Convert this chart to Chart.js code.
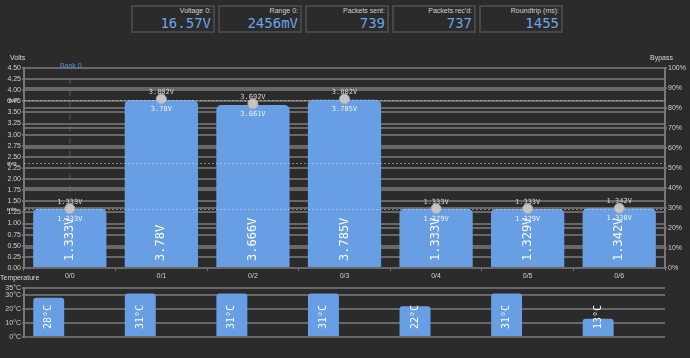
<!DOCTYPE html>
<html>
<head>
<meta charset="utf-8">
<script src="https://cdn.jsdelivr.net/npm/chart.js@4.4.0/dist/chart.umd.min.js"></script>
<style>
  html, body { margin: 0; padding: 0; background: #2b2b2b; width: 690px; height: 358px; overflow: hidden;
    font-family: "Liberation Sans", Arial, sans-serif; }
  #info { position: absolute; left: 131px; top: 5px; display: flex; gap: 3px; }
  .box { width: 80px; height: 24px; border: 2px solid #474747; position: relative; }
  .box .lbl { position: absolute; right: 2px; top: 0px; font-size: 7px; line-height: 8px; color: #d0d0d0; }
  .box .val { position: absolute; right: 2px; top: 8px; font: 14px/16px "DejaVu Sans Mono", monospace; color: #6aa6e8; }
  #volts { position: absolute; left: 0; top: 50px; }
  #temps { position: absolute; left: 0; top: 270px; }
</style>
</head>
<body>
<div id="info"></div>
<canvas id="volts" width="690" height="230"></canvas>
<canvas id="temps" width="690" height="88"></canvas>
<script>
// header boxes
const infoLabels = ["Voltage 0:", "Range 0:", "Packets sent:", "Packets rec'd:", "Roundtrip (ms):"];
const infoValues = ["16.57V", "2456mV", "739", "737", "1455"];

// cells
const cells = ["0/0", "0/1", "0/2", "0/3", "0/4", "0/5", "0/6"];
const voltages = [1.333, 3.78, 3.666, 3.785, 1.333, 1.329, 1.342];
const maxVoltages = [1.333, 3.802, 3.692, 3.802, 1.333, 1.333, 1.342];
const minVoltages = [1.333, 3.78, 3.661, 3.785, 1.329, 1.329, 1.338];
const banks = [{ label: "Bank 0", cell: "0/0" }];

// temperatures
const internalTemps = [28, 31, 31, 31, 22, 31, 13];
const externalTemps = [null, null, null, null, null, null, null];
const tempTicks = [0, 10, 20, 30, 35];

const info = document.getElementById("info");
infoLabels.forEach((l, i) => {
  const d = document.createElement("div");
  d.className = "box";
  d.innerHTML = '<div class="lbl"></div><div class="val"></div>';
  d.querySelector(".lbl").textContent = l;
  d.querySelector(".val").textContent = infoValues[i];
  info.appendChild(d);
});

Chart.defaults.font.family = '"Liberation Sans", Arial, sans-serif';
Chart.defaults.font.size = 7;
Chart.defaults.color = "#cfcfcf";
Chart.defaults.animation = false;

const GRID = "#686868";
const BAR = "#689ee3";
const MONO = '"DejaVu Sans Mono", monospace';

// rotated text inside bars
const barText = {
  id: "barText",
  afterDatasetsDraw(chart, args, opts) {
    if (!opts.fmt) return;
    const ctx = chart.ctx;
    const meta = chart.getDatasetMeta(opts.dataset);
    const data = chart.data.datasets[opts.dataset].data;
    meta.data.forEach((bar, j) => {
      if (data[j] == null) return;
      ctx.save();
      ctx.translate(bar.x, bar.base - opts.offset);
      ctx.rotate(-Math.PI / 2);
      ctx.font = opts.font;
      ctx.fillStyle = "#ffffff";
      ctx.textAlign = "left";
      ctx.textBaseline = "middle";
      ctx.fillText(opts.fmt(data[j]), 0, 0);
      ctx.restore();
    });
  }
};

// titles, bank line, min/avg/max lines, point labels
const extras = {
  id: "extras",
  beforeDatasetsDraw(chart, args, opts) {
    if (!opts.banks) return;
    const ctx = chart.ctx, a = chart.chartArea, x = chart.scales.x;
    opts.banks.forEach(b => {
      const px = x.getPixelForValue(cells.indexOf(b.cell));
      ctx.save();
      ctx.strokeStyle = "rgba(90,130,190,0.3)";
      ctx.lineWidth = 2;
      ctx.setLineDash([6, 6]);
      ctx.beginPath();
      ctx.moveTo(px, a.top + 10);
      ctx.lineTo(px, a.bottom);
      ctx.stroke();
      ctx.setLineDash([]);
      ctx.fillStyle = "#5b8fd6";
      ctx.font = "7px " + Chart.defaults.font.family;
      ctx.textAlign = "center";
      ctx.textBaseline = "middle";
      ctx.fillText(b.label, px + 1, a.top - 2);
      ctx.restore();
    });
  },
  afterDatasetsDraw(chart, args, opts) {
    const ctx = chart.ctx, a = chart.chartArea;
    ctx.save();
    ctx.font = "7px " + Chart.defaults.font.family;
    ctx.fillStyle = "#d8d8d8";
    ctx.textBaseline = "middle";
    (opts.titles || []).forEach(t => {
      ctx.textAlign = t.align;
      ctx.fillText(t.text, t.x, t.y);
    });
    if (opts.stats) {
      const y = chart.scales.y;
      const mx = Math.max(...voltages), mn = Math.min(...voltages);
      const avg = voltages.reduce((s, v) => s + v, 0) / voltages.length;
      [["max", mx], ["avg", avg], ["min", mn]].forEach(([n, v]) => {
        const py = Math.round(y.getPixelForValue(v)) + 0.5;
        ctx.strokeStyle = "rgba(220,220,220,0.5)";
        ctx.lineWidth = 1;
        ctx.setLineDash([2, 2]);
        ctx.beginPath();
        ctx.moveTo(a.left, py);
        ctx.lineTo(a.right, py);
        ctx.stroke();
        ctx.setLineDash([]);
        ctx.textAlign = "left";
        ctx.fillStyle = "#e0e0e0";
        ctx.font = "6px " + Chart.defaults.font.family;
        ctx.fillText(n, 7, py);
      });
      const meta = chart.getDatasetMeta(0);
      ctx.font = "7px " + MONO;
      ctx.textAlign = "center";
      meta.data.forEach((pt, j) => {
        ctx.fillStyle = "#d6d6d6";
        ctx.fillText(maxVoltages[j].toFixed(3) + "V", pt.x, pt.y - 7);
        ctx.fillStyle = "#eef3fb";
        ctx.fillText(minVoltages[j] + "V", pt.x, pt.y + 10);
      });
    }
    ctx.restore();
  }
};

Chart.register(barText, extras);

const fixW = w => scale => { scale.width = w; };
const fixH = h => scale => { scale.height = h; };

new Chart(document.getElementById("volts"), {
  data: {
    labels: cells,
    datasets: [
      {
        type: "line",
        label: "Max",
        data: maxVoltages,
        showLine: false,
        pointRadius: 5,
        pointBackgroundColor: "#c4c4c4",
        pointBorderColor: "#a8a8a8",
        pointBorderWidth: 1,
        order: 0
      },
      {
        type: "bar",
        label: "Voltage",
        data: voltages,
        backgroundColor: BAR,
        borderRadius: 5,
        categoryPercentage: 0.8,
        barPercentage: 1.0,
        order: 1
      }
    ]
  },
  options: {
    responsive: false,
    layout: { padding: { top: 18, left: 0, right: 0, bottom: 0 } },
    plugins: {
      legend: { display: false },
      tooltip: { enabled: false },
      barText: { dataset: 1, offset: 6, font: "12px " + MONO, fmt: v => v + "V" },
      extras: {
        banks: banks,
        stats: true,
        titles: [
          { text: "Volts", x: 10, y: 8.5, align: "left" },
          { text: "Bypass", x: 673, y: 8.5, align: "right" }
        ]
      }
    },
    scales: {
      x: {
        afterFit: fixH(12),
        grid: { drawOnChartArea: false, tickLength: 3, color: "#777" },
        border: { color: GRID, width: 2 },
        ticks: { padding: 1, color: "#d0d0d0" }
      },
      y: {
        position: "left",
        min: 0,
        max: 4.5,
        afterFit: fixW(24),
        grid: { color: GRID, lineWidth: 2, tickLength: 2 },
        border: { color: "#777", width: 2 },
        ticks: { stepSize: 0.25, autoSkip: false, padding: 1, callback: v => v.toFixed(2) }
      },
      y1: {
        position: "right",
        min: 0,
        max: 100,
        afterFit: fixW(25),
        grid: { color: GRID, lineWidth: 2, tickLength: 2 },
        border: { color: "#777", width: 2 },
        ticks: { stepSize: 10, autoSkip: false, padding: 1, callback: v => v + "%" }
      }
    }
  }
});

new Chart(document.getElementById("temps"), {
  type: "bar",
  data: {
    labels: cells,
    datasets: [
      { label: "Internal", data: internalTemps, backgroundColor: BAR, borderRadius: 3 },
      { label: "External", data: externalTemps, backgroundColor: "#e0a050", borderRadius: 3 }
    ]
  },
  options: {
    responsive: false,
    categoryPercentage: 0.92,
    barPercentage: 0.735,
    layout: { padding: { top: 18, left: 0, right: 25, bottom: 21 } },
    plugins: {
      legend: { display: false },
      tooltip: { enabled: false },
      barText: { dataset: 0, offset: 7, font: "10px " + MONO, fmt: v => v + "°C" },
      extras: { titles: [{ text: "Temperature", x: 0, y: 8, align: "left" }] }
    },
    scales: {
      x: { display: false },
      y: {
        min: 0,
        max: 35,
        afterFit: fixW(24),
        afterBuildTicks: axis => { axis.ticks = tempTicks.map(v => ({ value: v })); },
        grid: { color: GRID, lineWidth: 2, tickLength: 2 },
        border: { color: "#777", width: 2 },
        ticks: { autoSkip: false, padding: 1, callback: v => v + "°C" }
      }
    }
  }
});
</script>
</body>
</html>
